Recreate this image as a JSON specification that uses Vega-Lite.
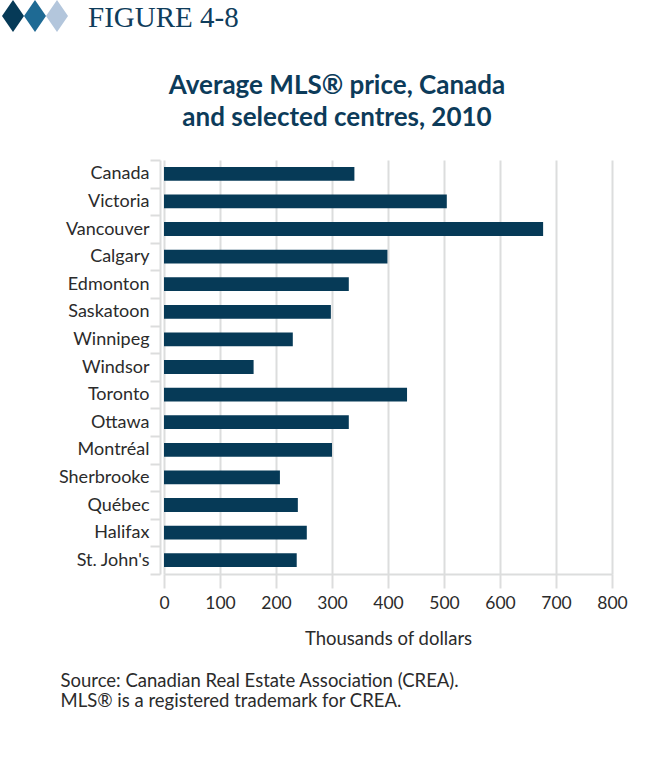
{
  "$schema": "https://vega.github.io/schema/vega-lite/v6.json",
  "autosize": {"type": "none"},
  "width": 448,
  "height": 414,
  "padding": {"left": 164, "top": 160, "right": 58, "bottom": 196},
  "background": "white",
  "data": {
    "values": [
      {"centre": "Canada", "price": 340},
      {"centre": "Victoria", "price": 505},
      {"centre": "Vancouver", "price": 677},
      {"centre": "Calgary", "price": 399},
      {"centre": "Edmonton", "price": 330},
      {"centre": "Saskatoon", "price": 298},
      {"centre": "Winnipeg", "price": 230},
      {"centre": "Windsor", "price": 160},
      {"centre": "Toronto", "price": 434},
      {"centre": "Ottawa", "price": 330},
      {"centre": "Montréal", "price": 300},
      {"centre": "Sherbrooke", "price": 207},
      {"centre": "Québec", "price": 239},
      {"centre": "Halifax", "price": 255},
      {"centre": "St. John's", "price": 237}
    ]
  },
  "title": {
    "text": ["Average MLS® price, Canada", "and selected centres, 2010"],
    "anchor": "middle",
    "frame": "group",
    "dx": -51,
    "offset": -152,
    "baseline": "bottom",
    "font": "Lato",
    "fontSize": 26,
    "fontWeight": "bold",
    "color": "#0c3b5a",
    "lineHeight": 31.7
  },
  "mark": {"type": "bar", "height": {"band": 0.5}},
  "encoding": {
    "y": {
      "field": "centre",
      "type": "nominal",
      "sort": null,
      "scale": {"paddingInner": 0, "paddingOuter": 0},
      "axis": {
        "title": ["Source: Canadian Real Estate Association (CREA).", "MLS® is a registered trademark for CREA."],
        "titleAngle": 0,
        "titleAlign": "left",
        "titleBaseline": "top",
        "titleX": -100,
        "titleY": 511,
        "titleFont": "Lato",
        "titleFontSize": 18.5,
        "titleFontWeight": "normal",
        "titleColor": "#2b2b2b",
        "titleLineHeight": 20,
        "offset": 4,
        "tickBand": "extent",
        "tickSize": 10,
        "tickWidth": 2,
        "tickColor": "#dcdddd",
        "domainColor": "#dcdddd",
        "domainWidth": 2,
        "labelFont": "Lato",
        "labelFontSize": 18,
        "labelColor": "#2b2b2b",
        "labelPadding": 1,
        "grid": false
      }
    },
    "x": {
      "field": "price",
      "type": "quantitative",
      "scale": {"domain": [0, 800], "nice": false},
      "axis": {
        "title": "Thousands of dollars",
        "values": [0, 100, 200, 300, 400, 500, 600, 700, 800],
        "titleFont": "Lato",
        "titleFontSize": 18.5,
        "titleFontWeight": "normal",
        "titleColor": "#2b2b2b",
        "titlePadding": 18,
        "grid": true,
        "gridColor": "#dcdddd",
        "gridWidth": 2,
        "tickSize": 14,
        "tickWidth": 2,
        "tickColor": "#dcdddd",
        "domainColor": "#dcdddd",
        "domainWidth": 2,
        "labelFont": "Lato",
        "labelFontSize": 17.5,
        "labelColor": "#2b2b2b",
        "labelPadding": 6,
        "labelFlush": false
      }
    },
    "color": {
      "datum": "a",
      "scale": {"domain": ["a", "b", "c"], "range": ["#063a57", "#1e6a94", "#b3c6dc"]},
      "legend": {
        "orient": "none",
        "legendX": -162,
        "legendY": -155,
        "direction": "horizontal",
        "padding": 0,
        "symbolType": "M0,-1.45L1,0L0,1.45L-1,0Z",
        "symbolSize": 484,
        "symbolStrokeWidth": 0,
        "symbolOpacity": 1,
        "labelExpr": "''",
        "labelOffset": 0,
        "columnPadding": 0,
        "title": "FIGURE 4-8",
        "titleOrient": "right",
        "titleFont": "Liberation Serif",
        "titleFontSize": 29,
        "titleFontWeight": "normal",
        "titleColor": "#0f3d5c",
        "titlePadding": 20,
        "titleBaseline": "middle"
      }
    }
  },
  "config": {"view": {"stroke": null}}
}
